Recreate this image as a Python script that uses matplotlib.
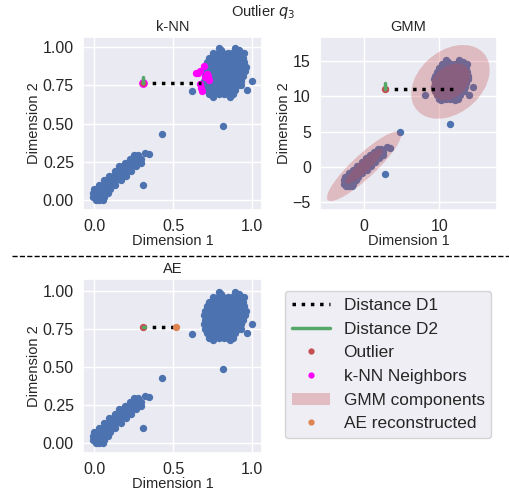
import numpy as np
import matplotlib
matplotlib.use("Agg")
import matplotlib.pyplot as plt
import seaborn as sns
from matplotlib.patches import Ellipse, Patch
from matplotlib.lines import Line2D

sns.set_theme(style="darkgrid")
plt.rcParams["font.family"] = ["Liberation Sans", "DejaVu Sans"]

# ---------------- data (normalised coordinates, as in k-NN / AE panels) ----------------
# lower-left cluster: rows of (y, [x values])
CLUSTER_A_ROWS = [
    (0.000, [0.010, 0.033, 0.056]),
    (0.020, [-0.004, 0.018, 0.044, 0.066]),
    (0.045, [-0.006, 0.016, 0.042, 0.066, 0.088]),
    (0.070, [-0.002, 0.024, 0.050, 0.076, 0.102]),
    (0.100, [0.030, 0.056, 0.082, 0.108, 0.135]),
    (0.130, [0.060, 0.086, 0.112, 0.138, 0.168]),
    (0.160, [0.095, 0.121, 0.147, 0.173, 0.200]),
    (0.190, [0.130, 0.156, 0.182, 0.208, 0.235]),
    (0.220, [0.160, 0.186, 0.212, 0.240, 0.268]),
    (0.245, [0.195, 0.221, 0.247, 0.273, 0.296]),
    (0.270, [0.225, 0.250, 0.275, 0.298]),
    (0.292, [0.255, 0.280]),
]
# upper-right cluster: rows of (y, [x values])
CLUSTER_B_ROWS = [
    (0.995, [0.790, 0.890]),
    (0.980, [0.805, 0.920]),
    (0.960, [0.755, 0.785, 0.815, 0.845, 0.875, 0.905, 0.935, 0.952]),
    (0.930, [0.730, 0.760, 0.790, 0.820, 0.850, 0.880, 0.910, 0.940]),
    (0.900, [0.715, 0.745, 0.775, 0.805, 0.835, 0.865, 0.895, 0.925, 0.952]),
    (0.870, [0.700, 0.730, 0.760, 0.790, 0.820, 0.850, 0.880, 0.910, 0.940, 0.960]),
    (0.840, [0.695, 0.725, 0.755, 0.785, 0.815, 0.845, 0.875, 0.905, 0.935, 0.958]),
    (0.810, [0.700, 0.730, 0.760, 0.790, 0.820, 0.850, 0.880, 0.910, 0.940]),
    (0.780, [0.695, 0.725, 0.755, 0.785, 0.815, 0.845, 0.875, 0.905, 0.932]),
    (0.750, [0.700, 0.730, 0.760, 0.790, 0.820, 0.850, 0.880, 0.910, 0.928]),
    (0.720, [0.715, 0.745, 0.775, 0.805, 0.835, 0.865, 0.895]),
    (0.690, [0.730, 0.760, 0.790, 0.820, 0.850, 0.880]),
    (0.675, [0.750, 0.860]),
]
ISOLATED_X = [0.998, 0.966, 0.620, 0.815, 0.428, 0.310, 0.325, 0.350]
ISOLATED_Y = [0.780, 0.720, 0.715, 0.486, 0.429, 0.096, 0.305, 0.300]

KNN_NEIGHBORS_X = [0.698, 0.646, 0.671, 0.719, 0.728, 0.700, 0.671, 0.680, 0.686, 0.658, 0.712]
KNN_NEIGHBORS_Y = [0.874, 0.832, 0.841, 0.808, 0.784, 0.802, 0.755, 0.733, 0.712, 0.828, 0.822]

OUTLIER = (0.312, 0.765)
AE_RECON = (0.520, 0.765)
KNN_D1_END = (0.680, 0.765)
KNN_D2_END = (0.312, 0.802)
AE_D2_END = (0.322, 0.765)

# min-max scaling of the GMM panel (raw = norm * span + min)
X_MIN, X_SPAN = -2.54, 17.1
Y_MIN, Y_SPAN = -2.73, 18.0
GMM_D1_END_X = 11.8
GMM_D2_END_Y = 11.9

GMM_MEANS = [(0.0, 0.1), (11.5, 12.05)]
GMM_WIDTHS = [6.8, 6.0]     # 1-sigma full widths
GMM_HEIGHTS = [1.6, 4.3]
GMM_ANGLES = [45, 45]

LEGEND_LABELS = ["Distance D1", "Distance D2", "Outlier", "k-NN Neighbors",
                 "GMM components", "AE reconstructed"]

# ---------------- colours ----------------
BLUE = "#4C72B0"
RED = "#C44E52"
GREEN = "#55A868"
ORANGE = "#DD8452"
MAG = "#FF00FF"

# expand rows to points
px, py = [], []
for y, xs in CLUSTER_A_ROWS + CLUSTER_B_ROWS:
    for x in xs:
        px.append(x)
        py.append(y)
px = np.array(px + ISOLATED_X)
py = np.array(py + ISOLATED_Y)

raw_x = px * X_SPAN + X_MIN
raw_y = py * Y_SPAN + Y_MIN
out_raw = (OUTLIER[0] * X_SPAN + X_MIN, OUTLIER[1] * Y_SPAN + Y_MIN)

W, H = 509, 494
fig = plt.figure(figsize=(W / 100, H / 100), dpi=100)

def axbox(l, r, t, b):
    return [l / W, 1 - b / H, (r - l) / W, (b - t) / H]

TICK_FS = 11.5
LAB_FS = 10.5
S = 28

# ---------------- k-NN ----------------
ax1 = fig.add_axes(axbox(83, 262, 37, 210))
ax1.scatter(px, py, s=S, color=BLUE, linewidths=0, zorder=2)
ax1.scatter(KNN_NEIGHBORS_X, KNN_NEIGHBORS_Y, s=S, color=MAG, linewidths=0, zorder=3)
ax1.plot([OUTLIER[0], KNN_D1_END[0]], [OUTLIER[1], KNN_D1_END[1]], ls=":", lw=2.5, color="black", zorder=4)
ax1.scatter([OUTLIER[0]], [OUTLIER[1]], s=40, color=MAG, linewidths=0, zorder=5)
ax1.scatter([OUTLIER[0]], [OUTLIER[1]], s=20, color=RED, linewidths=0, zorder=6)
ax1.plot([OUTLIER[0], KNN_D2_END[0]], [OUTLIER[1], KNN_D2_END[1]], lw=2.5, color=GREEN, zorder=7)
ax1.set_xlim(-0.07, 1.063)
ax1.set_ylim(-0.065, 1.065)
ax1.set_xticks([0.0, 0.5, 1.0])
ax1.set_yticks([0.0, 0.25, 0.5, 0.75, 1.0])
ax1.set_title("k-NN", fontsize=LAB_FS, pad=4)

# ---------------- GMM ----------------
ax2 = fig.add_axes(axbox(320, 497, 37, 210))
ax2.scatter(raw_x, raw_y, s=S, color=BLUE, linewidths=0, zorder=2)
for mean, w, h, a in zip(GMM_MEANS, GMM_WIDTHS, GMM_HEIGHTS, GMM_ANGLES):
    for nsig in (1, 2):
        ax2.add_patch(Ellipse(mean, nsig * w, nsig * h, angle=a, facecolor=RED,
                              edgecolor="none", alpha=0.3, zorder=3))
ax2.plot([out_raw[0], GMM_D1_END_X], [out_raw[1], out_raw[1]], ls=":", lw=2.5, color="black", zorder=4)
ax2.scatter([out_raw[0]], [out_raw[1]], s=S, color=RED, linewidths=0, zorder=5)
ax2.plot([out_raw[0], out_raw[0]], [out_raw[1], GMM_D2_END_Y], lw=2.5, color=GREEN, zorder=6)
ax2.set_xlim(-5.87, 17.7)
ax2.set_ylim(-6.1, 18.4)
ax2.set_xticks([0, 10])
ax2.set_yticks([-5, 0, 5, 10, 15])
ax2.set_title("GMM", fontsize=LAB_FS, pad=4)

# ---------------- AE ----------------
ax3 = fig.add_axes(axbox(83, 262, 279, 453))
ax3.scatter(px, py, s=S, color=BLUE, linewidths=0, zorder=2)
ax3.plot([OUTLIER[0], AE_RECON[0]], [OUTLIER[1], AE_RECON[1]], ls=":", lw=2.5, color="black", zorder=4)
ax3.scatter([OUTLIER[0]], [OUTLIER[1]], s=S, color=RED, linewidths=0, zorder=5)
ax3.scatter([AE_RECON[0]], [AE_RECON[1]], s=S, color=ORANGE, linewidths=0, zorder=5)
ax3.plot([OUTLIER[0], AE_D2_END[0]], [OUTLIER[1], AE_D2_END[1]], lw=2.5, color=GREEN, zorder=6)
ax3.set_xlim(-0.07, 1.063)
ax3.set_ylim(-0.068, 1.079)
ax3.set_xticks([0.0, 0.5, 1.0])
ax3.set_yticks([0.0, 0.25, 0.5, 0.75, 1.0])
ax3.set_title("AE", fontsize=LAB_FS, pad=4)

for ax in (ax1, ax2, ax3):
    ax.set_xlabel("Dimension 1", fontsize=LAB_FS, labelpad=0)
    ax.set_ylabel("Dimension 2", fontsize=LAB_FS, labelpad=1)
    ax.tick_params(axis="x", labelsize=TICK_FS, pad=0.5)
    ax.tick_params(axis="y", labelsize=TICK_FS, pad=0.5)

fig.text(263.5 / W, 1 - 12 / H, "Outlier $q_3$", ha="center", va="center", fontsize=10.5)

fig.add_artist(Line2D([12 / W, 1.0], [1 - 256 / H, 1 - 256 / H], transform=fig.transFigure,
                      color="black", ls="--", lw=1))

handles = [
    Line2D([], [], ls=":", lw=2.5, color="black"),
    Line2D([], [], lw=2.5, color=GREEN),
    Line2D([], [], ls="", marker="o", markersize=4.5, markeredgewidth=0, color=RED),
    Line2D([], [], ls="", marker="o", markersize=4.5, markeredgewidth=0, color=MAG),
    Patch(facecolor=RED, alpha=0.3, edgecolor="none"),
    Line2D([], [], ls="", marker="o", markersize=4.5, markeredgewidth=0, color=ORANGE),
]
fig.legend(handles, LEGEND_LABELS, loc="upper left", bbox_to_anchor=(285 / W, 1 - 291 / H),
           bbox_transform=fig.transFigure, borderaxespad=0, fontsize=12.4, handlelength=2.2,
           frameon=True)

fig.savefig("out.png", dpi=100)
